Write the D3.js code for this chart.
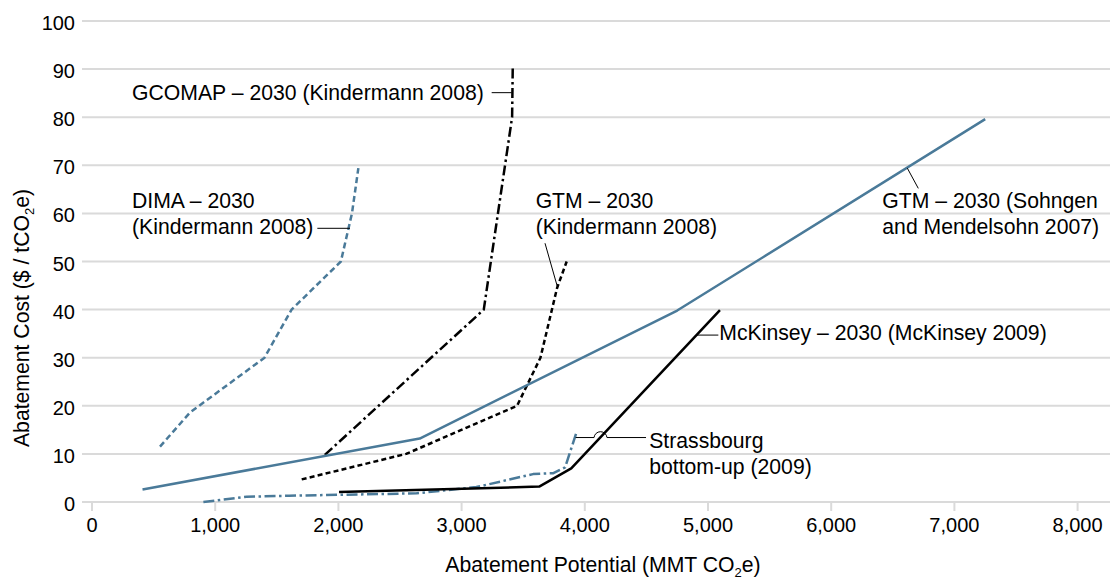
<!DOCTYPE html>
<html>
<head>
<meta charset="utf-8">
<script src="https://cdn.jsdelivr.net/npm/d3@7"></script>
<style>
  body { margin: 0; background: #fff; }
  svg { display: block; font-family: "Liberation Sans", Arial, Helvetica, sans-serif; }
</style>
</head>
<body>
<svg id="chart" width="1110" height="579"></svg>
<script>
// tick values
var yTicks = [0, 10, 20, 30, 40, 50, 60, 70, 80, 90, 100];
var xTicks = [0, 1000, 2000, 3000, 4000, 5000, 6000, 7000, 8000];

// series: [potential MMT CO2e, cost $/tCO2e]
var sohngen = [[410, 2.6], [2660, 13.2], [4750, 39.8], [7250, 79.6]];
var dima = [[552, 11.5], [795, 18.6], [1400, 30], [1620, 40], [2020, 50], [2110, 60], [2162, 69.4]];
var gcomap = [[1890, 9.8], [3180, 40], [3410, 80], [3415, 90.2]];
var gtmKindermann = [[1702, 4.7], [2550, 10], [3450, 20], [3640, 30], [3775, 44.5], [3853, 50]];
var mckinsey = [[2005, 2.1], [3630, 3.2], [3890, 7], [5097, 39.9]];
var strassbourg = [[904, 0], [1255, 1.1], [1600, 1.3], [2635, 1.8], [3120, 3.1], [3580, 5.8], [3745, 6], [3840, 7.2], [3934, 14.6]];

var blue = "#4a7a99";
var textSize = "21.2px";

var svg = d3.select("#chart");

// scales
var x = d3.scaleLinear().domain([0, 8000]).range([92, 1077.6]);
var y = d3.scaleLinear().domain([0, 100]).range([502, 21]);

// gridlines
svg.append("g").selectAll("line")
  .data(yTicks).enter().append("line")
  .attr("x1", 82).attr("x2", 1110)
  .attr("y1", function(d) { return y(d); })
  .attr("y2", function(d) { return y(d); })
  .style("stroke", "#dadada")
  .style("stroke-width", 2);

// y tick labels
svg.append("g").selectAll("text")
  .data(yTicks).enter().append("text")
  .attr("x", 75)
  .attr("y", function(d) { return y(d) + 9; })
  .attr("text-anchor", "end")
  .style("font-size", "20px")
  .text(function(d) { return d; });

// x ticks
var xAxis = svg.append("g");
xAxis.selectAll("line")
  .data(xTicks).enter().append("line")
  .attr("x1", function(d) { return x(d); })
  .attr("x2", function(d) { return x(d); })
  .attr("y1", 503).attr("y2", 511)
  .style("stroke", "#dadada")
  .style("stroke-width", 2);
xAxis.selectAll("text")
  .data(xTicks).enter().append("text")
  .attr("x", function(d) { return x(d); })
  .attr("y", 532)
  .attr("text-anchor", "middle")
  .style("font-size", "20px")
  .text(d3.format(","));

// axis titles
var xTitle = svg.append("text")
  .attr("x", 603).attr("y", 572)
  .attr("text-anchor", "middle")
  .style("font-size", textSize);
xTitle.append("tspan").text("Abatement Potential (MMT CO");
xTitle.append("tspan").attr("dy", 5).style("font-size", "13px").text("2");
xTitle.append("tspan").attr("dy", -5).text("e)");

var yTitle = svg.append("text")
  .attr("transform", "translate(29,318) rotate(-90)")
  .attr("text-anchor", "middle")
  .style("font-size", textSize);
yTitle.append("tspan").text("Abatement Cost ($ / tCO");
yTitle.append("tspan").attr("dy", 5).style("font-size", "13px").text("2");
yTitle.append("tspan").attr("dy", -5).text("e)");

// lines
var line = d3.line()
  .x(function(d) { return x(d[0]); })
  .y(function(d) { return y(d[1]); });

var series = [
  {data: gtmKindermann, color: "#000", dash: "5,3.2"},
  {data: gcomap, color: "#000", dash: "10,3.5,2.5,3.5"},
  {data: dima, color: blue, dash: "6,3.5"},
  {data: strassbourg, color: blue, dash: "11,3.5,2.5,3.5"},
  {data: sohngen, color: blue, dash: null},
  {data: mckinsey, color: "#000", dash: null}
];

svg.append("g").selectAll("path")
  .data(series).enter().append("path")
  .attr("d", function(d) { return line(d.data); })
  .style("fill", "none")
  .style("stroke", function(d) { return d.color; })
  .style("stroke-width", 2.5)
  .style("stroke-linejoin", "round")
  .style("stroke-dasharray", function(d) { return d.dash; });

// leader lines (data units)
var leaders = [
  [[3244, 85.1], [3406, 85.1]],
  [[1829, 56.9], [2094, 56.9]],
  [[3677, 53.8], [3777, 44.8]],
  [[6618, 69.4], [6707, 65.2]],
  [[4908, 34.7], [5084, 34.7]]
];
svg.append("g").selectAll("path")
  .data(leaders).enter().append("path")
  .attr("d", line)
  .style("fill", "none")
  .style("stroke", "#000")
  .style("stroke-width", 1);

// Strassbourg leader hops over the McKinsey line
var hopY = y(13.4);
svg.append("path")
  .attr("d", "M" + x(3926) + "," + hopY + "H" + x(4075) +
    "A6.5,6.5 0 0 1 " + x(4180) + "," + hopY + "H" + x(4497))
  .style("fill", "none")
  .style("stroke", "#000")
  .style("stroke-width", 1);

// labels: [x, y of first baseline, lines]
var labels = [
  [325, 83.5, ["GCOMAP – 2030 (Kindermann 2008)"]],
  [325, 61.1, ["DIMA – 2030", "(Kindermann 2008)"]],
  [3601, 61.1, ["GTM – 2030", "(Kindermann 2008)"]],
  [6415, 61.1, ["GTM – 2030 (Sohngen", "and Mendelsohn 2007)"]],
  [5092, 33.7, ["McKinsey – 2030 (McKinsey 2009)"]],
  [4523, 11.2, ["Strassbourg", "bottom-up (2009)"]]
];

var lab = svg.append("g").selectAll("text")
  .data(labels).enter().append("text")
  .attr("x", function(d) { return x(d[0]); })
  .attr("y", function(d) { return y(d[1]); })
  .style("font-size", textSize);
lab.selectAll("tspan")
  .data(function(d) { return d[2].map(function(t) { return {t: t, x: x(d[0])}; }); })
  .enter().append("tspan")
  .attr("x", function(d) { return d.x; })
  .attr("dy", function(d, i) { return i ? 25.5 : 0; })
  .text(function(d) { return d.t; });
</script>
</body>
</html>
